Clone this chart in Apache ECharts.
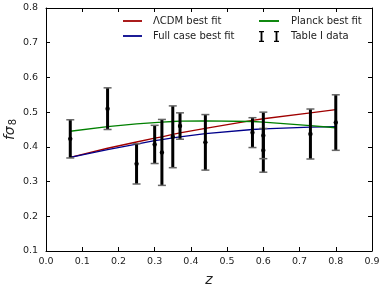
<!DOCTYPE html>
<html><head><meta charset="utf-8">
<script src="https://cdn.jsdelivr.net/npm/echarts@6/dist/echarts.min.js"></script>
<style>html,body{margin:0;padding:0;background:#fff}#c{width:382px;height:293px}</style>
</head><body><div id="c"></div>
<script>
const dataZ   = [0.067,0.17,0.25,0.30,0.32,0.35,0.37,0.44,0.57,0.60,0.60,0.73,0.80];
const dataFs8 = [0.423,0.51,0.351,0.407,0.384,0.429,0.460,0.413,0.441,0.390,0.433,0.437,0.47];
const dataErr = [0.055,0.06,0.058,0.055,0.095,0.089,0.038,0.080,0.043,0.063,0.067,0.072,0.08];
const curveZ  = [0.067,0.17,0.25,0.30,0.32,0.35,0.37,0.44,0.57,0.60,0.73,0.80];
const lcdm    = [0.370,0.396,0.414,0.425,0.429,0.436,0.440,0.453,0.476,0.481,0.498,0.507];
const fullFit = [0.370,0.392,0.408,0.418,0.421,0.426,0.429,0.438,0.450,0.452,0.457,0.458];
const planck  = [0.445,0.458,0.466,0.470,0.471,0.473,0.474,0.475,0.473,0.471,0.461,0.455];
const xTicks = [0,0.9,0.1];
const yTicks = [0.1,0.8,0.1];

const FONT = 'DejaVu Sans';
const pair = (xs, ys) => xs.map((x,i)=>[x, ys[i]]);
const errData = dataZ.map((z,i)=>[z, dataFs8[i]-dataErr[i], dataFs8[i]+dataErr[i], dataFs8[i]]);
const LINE_ICON = 'path://M0,0h16v1.5h-16z';

const chart = echarts.init(document.getElementById('c'), null, {renderer:'canvas'});
const axisCommon = {
  type:'value', splitLine:{show:false},
  axisLine:{show:true, onZero:false, lineStyle:{color:'#000', width:1}},
  axisTick:{show:true, inside:true, length:4, lineStyle:{color:'#000'}},
};
chart.setOption({
  animation:false,
  grid:{left:46, right:10, top:8, bottom:42, containLabel:false, outerBoundsMode:'none'},
  legend:[
    {left:123, top:16, padding:0, orient:'vertical', itemWidth:19, itemHeight:12, itemGap:5,
     textStyle:{fontFamily:FONT, fontSize:10, color:'#222', padding:[0,0,0,6]},
     data:[{name:'ΛCDM best fit', icon:LINE_ICON},{name:'Full case best fit', icon:LINE_ICON}]},
    {left:259, top:16, padding:0, orient:'vertical', itemWidth:20, itemHeight:12, itemGap:5,
     textStyle:{fontFamily:FONT, fontSize:10, color:'#222', padding:[0,0,0,7]},
     data:[{name:'Planck best fit', icon:LINE_ICON},
       {name:'Table I data', icon:'path://M0,0h5v1.2h-1.6v8.6h1.6v1.2h-5v-1.2h1.6v-8.6h-1.6z M15,0h5v1.2h-1.6v8.6h1.6v1.2h-5v-1.2h1.6v-8.6h-1.6z'}]}
  ],
  xAxis:[
    Object.assign({}, axisCommon, {min:xTicks[0], max:xTicks[1], interval:xTicks[2], position:'bottom',
      name:'z', nameLocation:'middle', nameGap:22, nameMoveOverlap:false,
      nameTextStyle:{fontFamily:FONT, fontSize:14, fontStyle:'italic', color:'#222'},
      axisLabel:{fontFamily:FONT, fontSize:9.5, color:'#222', margin:6, formatter:v=>v.toFixed(1)}}),
    Object.assign({}, axisCommon, {min:xTicks[0], max:xTicks[1], interval:xTicks[2], position:'top', axisLabel:{show:false}})
  ],
  yAxis:[
    Object.assign({}, axisCommon, {min:yTicks[0], max:yTicks[1], interval:yTicks[2], position:'left',
      name:'{a|fσ}{s|8}', nameLocation:'middle', nameGap:28, nameRotate:90, nameMoveOverlap:false,
      nameTextStyle:{fontFamily:FONT, color:'#222', rich:{
        a:{fontFamily:FONT, fontSize:14, fontStyle:'italic', color:'#222', lineHeight:16, verticalAlign:'middle'},
        s:{fontFamily:FONT, fontSize:10, color:'#222', lineHeight:16, verticalAlign:'bottom', padding:[0,0,0,1]}}},
      axisLabel:{fontFamily:FONT, fontSize:9.5, color:'#222', margin:8, formatter:v=>v.toFixed(1)}}),
    Object.assign({}, axisCommon, {min:yTicks[0], max:yTicks[1], interval:yTicks[2], position:'right', axisLabel:{show:false}})
  ],
  series:[
    {name:'ΛCDM best fit', type:'line', data:pair(curveZ,lcdm), symbol:'none', color:'#a00000', lineStyle:{width:1.3}, z:2},
    {name:'Full case best fit', type:'line', data:pair(curveZ,fullFit), symbol:'none', color:'#00008b', lineStyle:{width:1.3}, z:2},
    {name:'Planck best fit', type:'line', data:pair(curveZ,planck), symbol:'none', color:'#008000', lineStyle:{width:1.3}, z:2},
    {name:'Table I data', type:'custom', color:'#000', z:3, data:errData, encode:{x:0, y:[1,2]},
     renderItem:(params, api)=>{
       const x=api.value(0), lo=api.value(1), hi=api.value(2), m=api.value(3);
       const pt=api.coord([x,hi]), pb=api.coord([x,lo]), pm=api.coord([x,m]);
       return {type:'group', children:[
         {type:'line', shape:{x1:pt[0],y1:pt[1],x2:pb[0],y2:pb[1]}, style:{stroke:'#000', lineWidth:3}},
         {type:'line', shape:{x1:pt[0]-4,y1:pt[1],x2:pt[0]+4,y2:pt[1]}, style:{stroke:'#666', lineWidth:1.5}},
         {type:'line', shape:{x1:pb[0]-4,y1:pb[1],x2:pb[0]+4,y2:pb[1]}, style:{stroke:'#666', lineWidth:1.5}},
         {type:'circle', shape:{cx:pm[0], cy:pm[1], r:2.2}, style:{fill:'#000'}}
       ]};
     }}
  ]
});
</script></body></html>
